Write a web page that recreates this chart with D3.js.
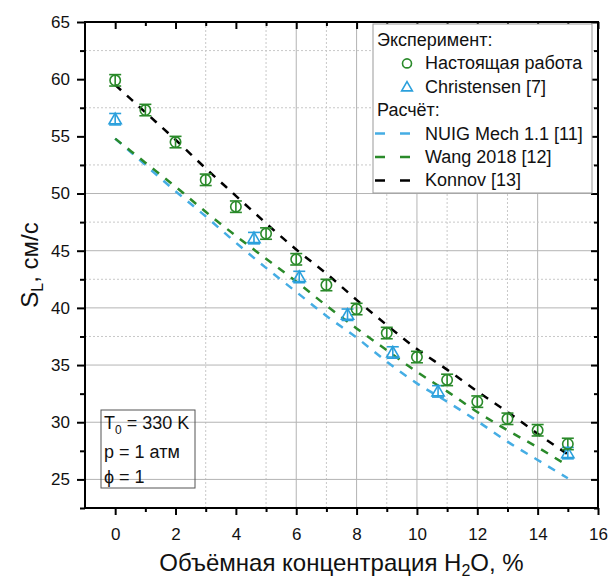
<!DOCTYPE html>
<html>
<head>
<meta charset="utf-8">
<script src="https://cdn.jsdelivr.net/npm/d3@7"></script>
<style>
  body { margin: 0; background: #fff; }
  svg { font-family: "Liberation Sans", Arial, sans-serif; }
</style>
</head>
<body>
<div id="chart"></div>
<script>
// experiment: this work
const expX = [0, 1, 2, 3, 4, 5, 6, 7, 8, 9, 10, 11, 12, 13, 14, 15];
const expS = [59.9, 57.3, 54.5, 51.2, 48.85, 46.5, 44.25, 42.0, 39.9, 37.8, 35.7, 33.7, 31.8, 30.3, 29.3, 28.1];
const expErr = [0.5, 0.5, 0.5, 0.5, 0.5, 0.5, 0.5, 0.5, 0.5, 0.5, 0.5, 0.5, 0.5, 0.5, 0.5, 0.5];
// experiment: Christensen [7]
const chrX = [0, 4.6, 6.1, 7.7, 9.2, 10.7, 15];
const chrS = [56.5, 46.1, 42.7, 39.4, 36.1, 32.7, 27.3];
const chrErr = [0.5, 0.5, 0.5, 0.5, 0.5, 0.5, 0.5];
// calculations
const calcX = [0, 1, 2, 3, 4, 5, 6, 7, 8, 9, 10, 11, 12, 13, 14, 15];
const nuig = [54.8, 52.5, 50.2, 48.0, 45.7, 43.5, 41.4, 39.3, 37.4, 35.3, 33.4, 31.8, 30.1, 28.3, 26.7, 25.1];
const wang = [54.8, 52.7, 50.6, 48.4, 46.3, 44.3, 42.3, 40.2, 38.2, 36.3, 34.4, 32.7, 30.9, 29.3, 27.8, 26.2];
const konnov = [59.5, 57.1, 54.7, 52.2, 49.8, 47.4, 45.1, 43.0, 40.7, 38.5, 36.4, 34.6, 32.7, 30.9, 29.0, 27.2];

const xTicks = [0, 2, 4, 6, 8, 10, 12, 14, 16];
const xMinor = [-1, 1, 3, 5, 7, 9, 11, 13, 15];
const yTicks = [25, 30, 35, 40, 45, 50, 55, 60, 65];
const yMinor = [22.5, 27.5, 32.5, 37.5, 42.5, 47.5, 52.5, 57.5, 62.5];
// grid lines that are visible in the figure
const xGridMajor = [6, 8, 10, 12, 14];
const xGridMinor = [3, 5, 7, 9, 11, 13];
const yGridMajor = [25, 30, 35, 40, 45, 50];
const yGridMinor = [37.5, 42.5, 47.5, 52.5, 57.5, 62.5];

const GREEN = "#2a8a2a", BLUE = "#2ba0dc", LBLUE = "#45ade4";

const W = 611, H = 581;
const margin = {top: 22, right: 13, bottom: 73, left: 85};
const width = W - margin.left - margin.right,
  height = H - margin.top - margin.bottom;

const svg = d3.select("#chart").append("svg")
  .attr("width", W).attr("height", H);
const g = svg.append("g")
  .attr("transform", `translate(${margin.left},${margin.top})`);

const x = d3.scaleLinear().domain([-1, 16]).range([0, width]);
const y = d3.scaleLinear().domain([22.5, 65]).range([height, 0]);

// grid
g.append("g").selectAll("line").data(xGridMajor).join("line")
  .attr("x1", d => x(d)).attr("x2", d => x(d))
  .attr("y1", 0).attr("y2", height)
  .attr("stroke", "#b4b4b4").attr("stroke-width", 1);
g.append("g").selectAll("line").data(xGridMinor).join("line")
  .attr("x1", d => x(d)).attr("x2", d => x(d))
  .attr("y1", 0).attr("y2", height)
  .attr("stroke", "#c8c8c8").attr("stroke-width", 1).attr("stroke-dasharray", "2,2");
g.append("g").selectAll("line").data(yGridMajor).join("line")
  .attr("y1", d => y(d)).attr("y2", d => y(d))
  .attr("x1", 0).attr("x2", width)
  .attr("stroke", "#b4b4b4").attr("stroke-width", 1);
g.append("g").selectAll("line").data(yGridMinor).join("line")
  .attr("y1", d => y(d)).attr("y2", d => y(d))
  .attr("x1", 0).attr("x2", width)
  .attr("stroke", "#c8c8c8").attr("stroke-width", 1).attr("stroke-dasharray", "2,2");

// model lines
const line = d3.line()
  .x(d => x(d[0])).y(d => y(d[1]))
  .curve(d3.curveMonotoneX);
const models = [
  {name: "NUIG Mech 1.1 [11]", vals: nuig, color: LBLUE},
  {name: "Wang 2018 [12]", vals: wang, color: GREEN},
  {name: "Konnov [13]", vals: konnov, color: "#000"}
];
g.append("g").selectAll("path").data(models).join("path")
  .attr("d", m => line(calcX.map((v, i) => [v, m.vals[i]])))
  .attr("fill", "none")
  .attr("stroke", m => m.color)
  .attr("stroke-width", 2.5)
  .attr("stroke-dasharray", "8,8");

// error bars
const drawErr = (xs, ys, es, color) => {
  const eg = g.append("g").attr("stroke", color).attr("stroke-width", 1.6);
  xs.forEach((xv, i) => {
    const cx = x(xv), top = y(ys[i] + es[i]), bot = y(ys[i] - es[i]);
    eg.append("line").attr("x1", cx).attr("x2", cx).attr("y1", top).attr("y2", bot);
    eg.append("line").attr("x1", cx - 6).attr("x2", cx + 6).attr("y1", top).attr("y2", top);
    eg.append("line").attr("x1", cx - 6).attr("x2", cx + 6).attr("y1", bot).attr("y2", bot);
  });
};
drawErr(chrX, chrS, chrErr, BLUE);
drawErr(expX, expS, expErr, GREEN);

const tri = d3.symbol().type(d3.symbolTriangle).size(65);
g.append("g").selectAll("path").data(chrX).join("path")
  .attr("transform", (d, i) => `translate(${x(d)},${y(chrS[i]) + 1})`)
  .attr("d", tri)
  .attr("fill", "none").attr("stroke", BLUE).attr("stroke-width", 1.6);

g.append("g").selectAll("circle").data(expX).join("circle")
  .attr("cx", d => x(d)).attr("cy", (d, i) => y(expS[i]))
  .attr("r", 5.2)
  .attr("fill", "none").attr("stroke", GREEN).attr("stroke-width", 1.6);

// axes
const fmt = d3.format("d");
const xAxisG = g.append("g")
  .attr("transform", `translate(0,${height})`)
  .call(d3.axisBottom(x).tickValues(xTicks).tickSize(7).tickSizeOuter(0).tickPadding(13).tickFormat(fmt));
g.append("g").attr("transform", `translate(0,${height})`)
  .call(d3.axisBottom(x).tickValues(xMinor.slice(1)).tickSize(4).tickSizeOuter(0).tickFormat(""));
g.append("g").call(d3.axisTop(x).tickValues(xTicks).tickSize(-7).tickSizeOuter(0).tickFormat(""));
g.append("g").call(d3.axisTop(x).tickValues(xMinor.slice(1)).tickSize(-4).tickSizeOuter(0).tickFormat(""));

g.append("g")
  .call(d3.axisLeft(y).tickValues(yTicks).tickSize(8).tickSizeOuter(0).tickPadding(7).tickFormat(fmt));
g.append("g")
  .call(d3.axisLeft(y).tickValues(yMinor).tickSize(5).tickSizeOuter(0).tickFormat(""));
g.append("g").attr("transform", `translate(${width},0)`)
  .call(d3.axisRight(y).tickValues(yTicks).tickSize(-7).tickSizeOuter(0).tickFormat(""));
g.append("g").attr("transform", `translate(${width},0)`)
  .call(d3.axisRight(y).tickValues(yMinor).tickSize(-4).tickSizeOuter(0).tickFormat(""));

g.selectAll(".tick line").attr("stroke", "#000").attr("stroke-width", 2);
g.selectAll(".domain").remove();
g.selectAll(".tick text").attr("font-size", 17).attr("font-family", "Liberation Sans, Arial, sans-serif").attr("fill", "#111");

g.append("rect")
  .attr("width", width).attr("height", height)
  .attr("fill", "none").attr("stroke", "#000").attr("stroke-width", 2);

// axis titles
const xt = svg.append("text")
  .attr("x", margin.left + width / 2).attr("y", 571)
  .attr("text-anchor", "middle").attr("font-size", 24).attr("fill", "#111");
xt.append("tspan").text("Объёмная концентрация H");
xt.append("tspan").attr("font-size", 16).attr("dy", 5).text("2");
xt.append("tspan").attr("dy", -5).text("O, %");

const yt = svg.append("text")
  .attr("transform", `translate(38,${margin.top + height / 2}) rotate(-90)`)
  .attr("text-anchor", "middle").attr("font-size", 24).attr("fill", "#111");
yt.append("tspan").text("S");
yt.append("tspan").attr("font-size", 16).attr("dy", 5).text("L");
yt.append("tspan").attr("dy", -5).text(", см/с");

// legend
const lg = svg.append("g");
lg.append("rect").attr("x", 373).attr("y", 24).attr("width", 219).attr("height", 169)
  .attr("fill", "#fff").attr("stroke", "#999").attr("stroke-width", 1);
const rowY = i => 46 + i * 23.4;
const legText = (txt, i, tx) => lg.append("text").attr("x", tx).attr("y", rowY(i))
  .attr("font-size", 18).attr("fill", "#111").text(txt);
legText("Эксперимент:", 0, 377);
legText("Настоящая работа", 1, 425);
lg.append("circle").attr("cx", 407).attr("cy", rowY(1) - 6).attr("r", 4.5)
  .attr("fill", "none").attr("stroke", GREEN).attr("stroke-width", 1.6);
legText("Christensen [7]", 2, 425);
lg.append("path").attr("transform", `translate(407,${rowY(2) - 5})`)
  .attr("d", d3.symbol().type(d3.symbolTriangle).size(50))
  .attr("fill", "none").attr("stroke", BLUE).attr("stroke-width", 1.6);
legText("Расчёт:", 3, 377);
models.forEach((m, k) => {
  legText(m.name, 4 + k, 425);
  lg.append("line").attr("x1", 375).attr("x2", 412)
    .attr("y1", rowY(4 + k) - 6).attr("y2", rowY(4 + k) - 6)
    .attr("stroke", m.color).attr("stroke-width", 2.5).attr("stroke-dasharray", "10,15");
});

// conditions box
const cb = svg.append("g");
cb.append("rect").attr("x", 101).attr("y", 410).attr("width", 94).attr("height", 78)
  .attr("fill", "none").attr("stroke", "#555").attr("stroke-width", 1);
const c1 = cb.append("text").attr("x", 104).attr("y", 429).attr("font-size", 18).attr("fill", "#111");
c1.append("tspan").text("T");
c1.append("tspan").attr("font-size", 12).attr("dy", 5).text("0");
c1.append("tspan").attr("dy", -5).text(" = 330 K");
cb.append("text").attr("x", 104).attr("y", 458).attr("font-size", 18).attr("fill", "#111").text("p = 1 атм");
cb.append("text").attr("x", 104).attr("y", 483).attr("font-size", 18).attr("fill", "#111").text("ϕ = 1");
</script>
</body>
</html>
